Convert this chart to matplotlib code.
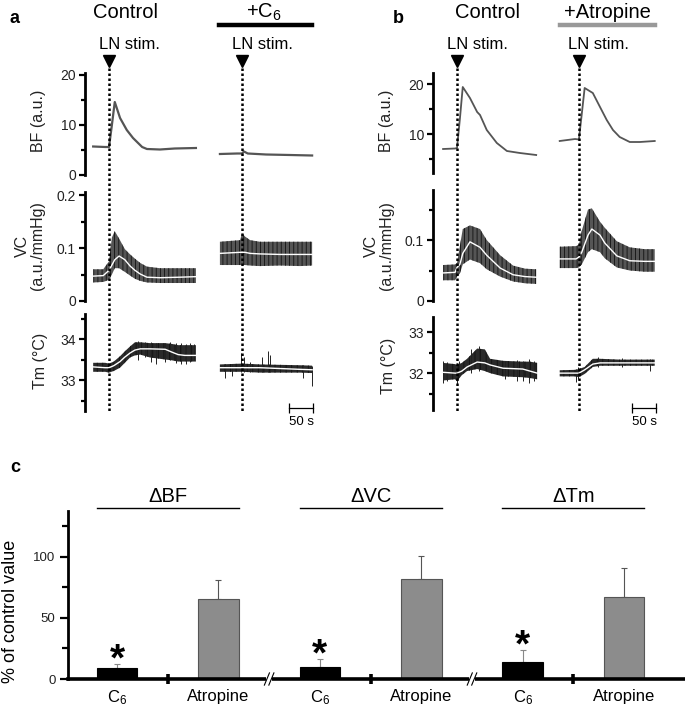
import numpy as np
import matplotlib
matplotlib.use("Agg")
import matplotlib.pyplot as plt
from matplotlib.ticker import FixedLocator

plt.rcParams["font.family"] = ["Liberation Sans", "DejaVu Sans"]
plt.rcParams["mathtext.fontset"] = "custom"
plt.rcParams["mathtext.rm"] = "Liberation Sans"
plt.rcParams["mathtext.it"] = "Liberation Sans:italic"
plt.rcParams["hatch.linewidth"] = 0.6

W, H = 685, 709

# ---------------- panel a: control vs +C6 (t in s, 0 = LN stimulation) ----------------
a_bf_ctrl_t = [-33, -8, 0, 6, 12, 23, 37, 50, 69, 79, 106, 137, 181]
a_bf_ctrl = [5.7, 5.6, 5.6, 10.0, 14.6, 11.4, 9.0, 7.4, 5.6, 5.2, 5.1, 5.3, 5.4]
a_bf_drug_t = [-46, -10, 0, 4, 12, 50, 100, 146]
a_bf_drug = [4.2, 4.3, 4.3, 4.7, 4.3, 4.1, 4.0, 3.9]

a_vc_ctrl_t = [-33, -12, 0, 6, 12, 21, 33, 44, 54, 65, 79, 106, 148, 181]
a_vc_ctrl = [0.047, 0.048, 0.058, 0.068, 0.078, 0.085, 0.078, 0.066, 0.058, 0.051, 0.045, 0.044, 0.045, 0.046]
a_vc_ctrl_hi = [0.060, 0.060, 0.075, 0.120, 0.132, 0.118, 0.098, 0.088, 0.080, 0.072, 0.065, 0.062, 0.062, 0.062]
a_vc_ctrl_lo = [0.035, 0.036, 0.040, 0.050, 0.062, 0.062, 0.055, 0.048, 0.042, 0.038, 0.035, 0.034, 0.034, 0.034]
a_vc_drug_t = [-46, -4, 0, 6, 17, 37, 79, 121, 146]
a_vc_drug = [0.090, 0.092, 0.092, 0.092, 0.090, 0.089, 0.088, 0.088, 0.088]
a_vc_drug_hi = [0.112, 0.115, 0.128, 0.122, 0.115, 0.112, 0.112, 0.112, 0.112]
a_vc_drug_lo = [0.068, 0.068, 0.068, 0.068, 0.067, 0.066, 0.067, 0.066, 0.067]

a_tm_ctrl_t = [-33, -8, 0, 10, 23, 33, 44, 54, 65, 85, 117, 131, 144, 158, 181]
a_tm_ctrl = [33.32, 33.30, 33.30, 33.35, 33.45, 33.56, 33.66, 33.73, 33.76, 33.76, 33.75, 33.68, 33.62, 33.60, 33.60]
a_tm_ctrl_hi = [33.42, 33.42, 33.40, 33.45, 33.58, 33.70, 33.82, 33.92, 33.92, 33.90, 33.90, 33.88, 33.85, 33.85, 33.85]
a_tm_ctrl_lo = [33.20, 33.20, 33.18, 33.22, 33.30, 33.42, 33.55, 33.60, 33.62, 33.55, 33.50, 33.48, 33.45, 33.45, 33.45]
a_tm_ctrl_spk_t = [60, 75, 88, 98, 117, 128, 140, 150, 160, 168, 176]
a_tm_ctrl_spk_lo = [33.48, 33.55, 33.45, 33.40, 33.45, 33.50, 33.42, 33.40, 33.40, 33.45, 33.48]
a_tm_ctrl_spk_hi = [33.95, 33.93, 33.92, 33.90, 33.90, 33.92, 33.90, 33.90, 33.88, 33.90, 33.88]
a_tm_drug_t = [-46, 0, 37, 79, 121, 146]
a_tm_drug = [33.30, 33.30, 33.30, 33.28, 33.26, 33.25]
a_tm_drug_hi = [33.38, 33.40, 33.38, 33.37, 33.36, 33.35]
a_tm_drug_lo = [33.20, 33.20, 33.18, 33.18, 33.18, 33.17]
a_tm_drug_spk_t = [-35, -21, -2, 4, 17, 42, 54, 58, 127, 146]
a_tm_drug_spk_lo = [33.05, 33.10, 33.20, 33.20, 33.20, 33.20, 33.20, 33.20, 33.05, 32.85]
a_tm_drug_spk_hi = [33.38, 33.38, 33.65, 33.55, 33.45, 33.55, 33.70, 33.60, 33.36, 33.35]

# ---------------- panel b: control vs +Atropine ----------------
b_bf_ctrl_t = [-29, -4, 0, 6, 12, 27, 42, 48, 62, 83, 104, 131, 165]
b_bf_ctrl = [7.0, 7.1, 7.2, 13.0, 19.4, 17.2, 14.4, 13.8, 10.8, 8.2, 6.6, 6.2, 5.8]
b_bf_drug_t = [-40, -8, 0, 6, 12, 29, 44, 58, 71, 85, 106, 127, 158]
b_bf_drug = [8.6, 9.0, 8.9, 14.0, 19.2, 18.2, 15.4, 12.8, 10.8, 9.4, 8.4, 8.4, 8.6]

b_vc_ctrl_t = [-29, -4, 0, 6, 12, 27, 48, 62, 90, 117, 142, 165]
b_vc_ctrl = [0.046, 0.047, 0.055, 0.060, 0.078, 0.097, 0.088, 0.075, 0.054, 0.043, 0.040, 0.039]
b_vc_ctrl_hi = [0.059, 0.060, 0.062, 0.090, 0.118, 0.124, 0.118, 0.100, 0.075, 0.058, 0.053, 0.052]
b_vc_ctrl_lo = [0.034, 0.034, 0.040, 0.045, 0.060, 0.068, 0.062, 0.052, 0.040, 0.032, 0.029, 0.028]
b_vc_drug_t = [-40, -6, 0, 6, 19, 27, 44, 54, 79, 106, 137, 158]
b_vc_drug = [0.069, 0.069, 0.072, 0.080, 0.108, 0.118, 0.108, 0.095, 0.074, 0.066, 0.065, 0.065]
b_vc_drug_hi = [0.089, 0.090, 0.092, 0.115, 0.150, 0.152, 0.130, 0.120, 0.098, 0.088, 0.085, 0.085]
b_vc_drug_lo = [0.054, 0.054, 0.055, 0.060, 0.080, 0.085, 0.080, 0.070, 0.055, 0.050, 0.048, 0.048]

b_tm_ctrl_t = [-29, -4, 0, 10, 21, 42, 58, 69, 96, 137, 152, 167]
b_tm_ctrl = [32.02, 32.00, 32.00, 32.05, 32.15, 32.27, 32.25, 32.20, 32.12, 32.10, 32.05, 32.00]
b_tm_ctrl_hi = [32.25, 32.22, 32.20, 32.25, 32.35, 32.60, 32.58, 32.35, 32.30, 32.28, 32.28, 32.25]
b_tm_ctrl_lo = [31.82, 31.85, 31.80, 31.95, 32.05, 32.10, 32.05, 32.00, 31.92, 31.90, 31.88, 31.85]
b_tm_ctrl_spk_t = [-29, -20, 0, 5, 30, 45, 100, 125, 138, 150, 160]
b_tm_ctrl_spk_lo = [31.75, 31.80, 31.70, 31.90, 32.00, 32.05, 31.85, 31.80, 31.80, 31.75, 31.80]
b_tm_ctrl_spk_hi = [32.30, 32.28, 32.25, 32.30, 32.60, 32.65, 32.30, 32.32, 32.30, 32.35, 32.30]
b_tm_drug_t = [-40, -8, 0, 12, 29, 44, 85, 158]
b_tm_drug = [32.00, 32.00, 32.00, 32.08, 32.22, 32.25, 32.25, 32.25]
b_tm_drug_hi = [32.07, 32.08, 32.10, 32.15, 32.35, 32.35, 32.33, 32.33]
b_tm_drug_lo = [31.92, 31.92, 31.90, 31.98, 32.15, 32.18, 32.18, 32.18]
b_tm_drug_spk_t = [-6, -2, 40, 90, 148]
b_tm_drug_spk_lo = [31.78, 31.85, 32.15, 32.15, 32.05]
b_tm_drug_spk_hi = [32.10, 32.15, 32.40, 32.38, 32.35]

# ---------------- panel c: % of control value ----------------
groups = ["\u0394BF", "\u0394VC", "\u0394Tm"]
drugs = ["C$_6$", "Atropine"]
c_mean = [9.0, 65.6, 10.0, 81.7, 14.2, 67.5]
c_err = [3.0, 15.4, 6.0, 19.1, 9.6, 23.5]
c_sig = [True, False, True, False, True, False]


def px_axes(fig, x0, y0, x1, y1):
    return fig.add_axes([x0 / W, 1 - y1 / H, (x1 - x0) / W, (y1 - y0) / H])


def ftext(fig, x, y, s, **kw):
    return fig.text(x / W, 1 - y / H, s, **kw)


def trace_axes(fig, box, xlim, ylim, major, labels, minor, ylabel, lab_xy):
    x0, y0, x1, y1 = box
    ax = px_axes(fig, x0, y0, x1, y1)
    ax.set_xlim(xlim)
    ax.set_ylim(ylim)
    ax.patch.set_visible(False)
    for s in ["top", "right", "bottom"]:
        ax.spines[s].set_visible(False)
    ax.spines["left"].set_linewidth(2)
    ax.set_xticks([])
    ax.set_yticks(major)
    ax.set_yticklabels(labels)
    ax.yaxis.set_minor_locator(FixedLocator(minor))
    ax.tick_params(axis="y", which="major", length=4.5, width=1.6, labelsize=10,
                   pad=2, labelcolor="#222")
    ax.tick_params(axis="y", which="minor", length=3, width=1.6)
    lx, ly = lab_xy
    ax.text((lx - x0) / (x1 - x0), (y1 - ly) / (y1 - y0), ylabel, transform=ax.transAxes,
            rotation=90, ha="center", va="center", fontsize=11.5, linespacing=1.05,
            multialignment="center", color="#222")
    return ax


def band(ax, t, mean, hi, lo, off, face="#555555", hatch="||||"):
    t = np.asarray(t) + off
    ax.fill_between(t, lo, hi, facecolor=face, edgecolor="#111111", hatch=hatch,
                    lw=0, clip_on=False)
    ax.plot(t, mean, color="white", lw=1.0, clip_on=False)


def spikes(ax, t, lo, hi, off):
    ax.vlines(np.asarray(t) + off, lo, hi, color="#222222", lw=0.7, clip_on=False)


def overlay(fig, x0, x1, xlim, stims, scale_end):
    ov = fig.add_axes([x0 / W, 0, (x1 - x0) / W, 1])
    ov.set_xlim(xlim)
    ov.set_ylim(H, 0)
    ov.axis("off")
    for s in stims:
        ov.plot([s, s], [63, 411], color="black", lw=1.8, linestyle=(0, (1, 1)))
        ov.plot([s], [61], marker="v", color="black", ms=9)
        ov.annotate("LN stim.", xy=(s, 49), xytext=(-7.5, 0), textcoords="offset points",
                    ha="left", va="baseline", fontsize=12)
    ov.plot([scale_end - 50, scale_end], [408, 408], color="black", lw=0.9,
            marker="|", ms=7, mew=0.9)
    ov.text(scale_end - 25, 425, "50 s", ha="center", va="baseline", fontsize=9.5)
    return ov


def main():
    fig = plt.figure(figsize=(W / 100, H / 100), dpi=100)

    # ---------- panel a ----------
    xa = (-50, 429)
    off_a = 277
    ftext(fig, 15, 23, "a", fontsize=13, fontweight="bold", ha="center", va="baseline")
    ftext(fig, 125, 18, "Control", fontsize=14.5, ha="center", va="baseline")
    ftext(fig, 264, 18, "+C$_6$", fontsize=14.5, ha="center", va="baseline")
    fig.add_artist(plt.Line2D([219 / W, 312 / W], [1 - 25 / H, 1 - 25 / H], color="black", lw=3.2))

    ax = trace_axes(fig, (85, 73, 315, 175), xa, (0, 20.4), [0, 10, 20], ["0", "10", "20"],
                    [5, 15], "BF (a.u.)", (39, 121))
    ax.plot(a_bf_ctrl_t, a_bf_ctrl, color="#555555", lw=1.6, clip_on=False)
    ax.plot(np.asarray(a_bf_drug_t) + off_a, a_bf_drug, color="#555555", lw=1.6, clip_on=False)

    ax = trace_axes(fig, (85, 192, 315, 301), xa, (0, 0.206), [0, 0.1, 0.2], ["0", "0.1", "0.2"],
                    [0.05, 0.15], "VC\n(a.u./mmHg)", (30, 246))
    band(ax, a_vc_ctrl_t, a_vc_ctrl, a_vc_ctrl_hi, a_vc_ctrl_lo, 0)
    band(ax, a_vc_drug_t, a_vc_drug, a_vc_drug_hi, a_vc_drug_lo, off_a)

    ax = trace_axes(fig, (85, 314, 315, 411), xa, (32.244, 34.61), [33, 34], ["33", "34"],
                    [32.5, 33.5, 34.5], "Tm (\u00b0C)", (40, 361))
    spikes(ax, a_tm_ctrl_spk_t, a_tm_ctrl_spk_lo, a_tm_ctrl_spk_hi, 0)
    spikes(ax, a_tm_drug_spk_t, a_tm_drug_spk_lo, a_tm_drug_spk_hi, off_a)
    band(ax, a_tm_ctrl_t, a_tm_ctrl, a_tm_ctrl_hi, a_tm_ctrl_lo, 0, face="#2a2a2a", hatch="|||")
    band(ax, a_tm_drug_t, a_tm_drug, a_tm_drug_hi, a_tm_drug_lo, off_a, face="#2a2a2a", hatch="|||")

    overlay(fig, 85, 315, xa, [0, off_a], 425)

    # ---------- panel b ----------
    xb = (-50, 423)
    off_b = 254
    ftext(fig, 398, 23, "b", fontsize=13, fontweight="bold", ha="center", va="baseline")
    ftext(fig, 487, 18, "Control", fontsize=14.5, ha="center", va="baseline")
    ftext(fig, 607, 18, "+Atropine", fontsize=14.5, ha="center", va="baseline")
    fig.add_artist(plt.Line2D([560 / W, 655 / W], [1 - 25 / H, 1 - 25 / H], color="#999999", lw=3.2))

    ax = trace_axes(fig, (433, 73, 660, 173), xb, (2.2, 22.2), [10, 20], ["10", "20"],
                    [5, 15], "BF (a.u.)", (387, 121))
    ax.plot(b_bf_ctrl_t, b_bf_ctrl, color="#555555", lw=1.3, clip_on=False)
    ax.plot(np.asarray(b_bf_drug_t) + off_b, b_bf_drug, color="#555555", lw=1.3, clip_on=False)

    ax = trace_axes(fig, (433, 190, 660, 301), xb, (0, 0.182), [0, 0.1], ["0", "0.1"],
                    [0.05, 0.15], "VC\n(a.u./mmHg)", (379, 246))
    band(ax, b_vc_ctrl_t, b_vc_ctrl, b_vc_ctrl_hi, b_vc_ctrl_lo, 0)
    band(ax, b_vc_drug_t, b_vc_drug, b_vc_drug_hi, b_vc_drug_lo, off_b)

    ax = trace_axes(fig, (433, 317, 660, 410), xb, (31.10, 33.37), [32, 33], ["32", "33"],
                    [31.5, 32.5], "Tm (\u00b0C)", (388, 366))
    spikes(ax, b_tm_ctrl_spk_t, b_tm_ctrl_spk_lo, b_tm_ctrl_spk_hi, 0)
    spikes(ax, b_tm_drug_spk_t, b_tm_drug_spk_lo, b_tm_drug_spk_hi, off_b)
    band(ax, b_tm_ctrl_t, b_tm_ctrl, b_tm_ctrl_hi, b_tm_ctrl_lo, 0, face="#2a2a2a", hatch="|||")
    band(ax, b_tm_drug_t, b_tm_drug, b_tm_drug_hi, b_tm_drug_lo, off_b, face="#2a2a2a", hatch="|||")

    overlay(fig, 433, 660, xb, [0, off_b], 415)

    # ---------- panel c ----------
    ftext(fig, 15, 472, "c", fontsize=13, fontweight="bold", ha="center", va="baseline")
    axc = px_axes(fig, 68, 511, 684, 679)
    x = np.arange(len(c_mean))
    colors = ["black" if i % 2 == 0 else "#8c8c8c" for i in x]
    edges = ["black" if i % 2 == 0 else "#555555" for i in x]
    axc.bar(x, c_mean, width=0.4, color=colors, edgecolor=edges, lw=0.8, zorder=2)
    for i in x:
        axc.errorbar(x[i], c_mean[i], yerr=[[0], [c_err[i]]], fmt="none",
                     ecolor="#555555" if i % 2 else "#888888", elinewidth=0.8, capsize=2.5,
                     capthick=0.8, zorder=1)
        if c_sig[i]:
            axc.text(x[i], c_mean[i] + c_err[i] + 6.5, "*", ha="center", va="center_baseline",
                     fontsize=28, fontweight="bold")
    axc.set_xlim(-0.483, 5.59)
    axc.set_ylim(0, 137.7)
    for s in ["top", "right"]:
        axc.spines[s].set_visible(False)
    axc.spines["left"].set_linewidth(2)
    axc.spines["bottom"].set_linewidth(2.6)
    axc.spines["bottom"].set_zorder(3)
    axc.set_yticks([0, 50, 100])
    axc.yaxis.set_minor_locator(FixedLocator([25, 75, 125]))
    axc.tick_params(axis="y", which="major", length=6, width=1.6, labelsize=9.5, pad=3,
                    labelcolor="#222")
    axc.tick_params(axis="y", which="minor", length=4, width=1.6)
    axc.set_xticks(x, [drugs[i % 2] for i in x])
    axc.tick_params(axis="x", which="major", length=0, labelsize=12, pad=7)
    axc.set_xticks(x[::2] + 0.5, minor=True)
    axc.tick_params(axis="x", which="minor", direction="inout", length=7, width=2.6)
    axc.text(-0.094, 0.405, "% of control value", transform=axc.transAxes, rotation=90,
             ha="center", va="center", fontsize=13)

    for g, name in enumerate(groups):
        left, right = x[2 * g] - 0.2, x[2 * g + 1] + 0.2
        axc.plot([left, right], [140.5, 140.5], color="black", lw=1, clip_on=False)
        axc.text((left + right) / 2, 145, name, ha="center", va="baseline", fontsize=14.5)
        if g > 0:
            xb_ = x[2 * g] - 0.5
            axc.plot([xb_ - 0.03, xb_ + 0.03], [0, 0], color="white", lw=4, clip_on=False,
                     zorder=4, solid_capstyle="butt")
            for dx in (-0.022, 0.022):
                axc.plot([xb_ + dx - 0.025, xb_ + dx + 0.025], [-5, 5], color="black",
                         lw=0.8, clip_on=False, zorder=5)

    fig.savefig("out.png", dpi=100)


if __name__ == "__main__":
    main()
